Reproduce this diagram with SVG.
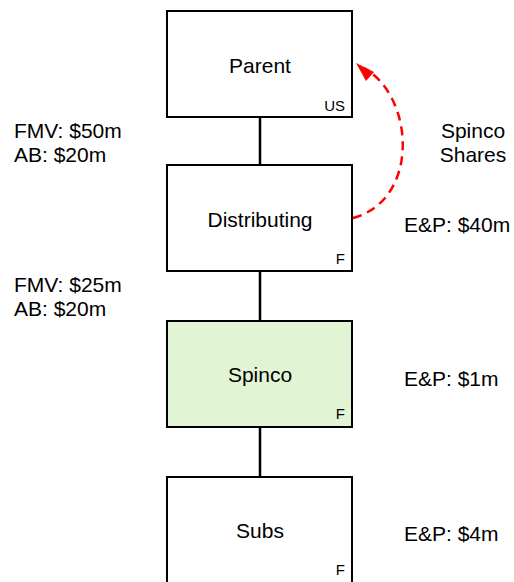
<svg xmlns="http://www.w3.org/2000/svg" width="514" height="582" viewBox="0 0 514 582">
<style>
.box{fill:#fff;stroke:#000;stroke-width:2}
.t{font-family:"Liberation Sans",Arial,sans-serif;font-size:21px;fill:#000}
.s{font-family:"Liberation Sans",Arial,sans-serif;font-size:15px;fill:#000}
.c{text-anchor:middle}
.e{text-anchor:end}
.ln{stroke:#000;stroke-width:2.5}
</style>
<g id="connectors">
<line class="ln" x1="260" y1="117" x2="260" y2="165"/>
<line class="ln" x1="260" y1="271" x2="260" y2="321"/>
<line class="ln" x1="260" y1="427" x2="260" y2="477"/>
<path d="M353,218 C420,200 415,97 364,68" fill="none" stroke="#f00" stroke-width="2.5" stroke-dasharray="9,6"/>
<path d="M374,72 L356,63 L366,81 z" fill="#f00"/>
</g>
<g id="parent">
<rect class="box" x="167" y="11" width="185" height="106"/>
<text class="t c" x="260" y="73">Parent</text>
<text class="s e" x="345" y="111">US</text>
</g>
<g id="distributing">
<rect class="box" x="167" y="165" width="185" height="106"/>
<text class="t c" x="260" y="227">Distributing</text>
<text class="s e" x="345" y="264">F</text>
</g>
<g id="spinco">
<rect class="box" x="167" y="321" width="185" height="106" style="fill:#e1f4d3"/>
<text class="t c" x="260" y="382">Spinco</text>
<text class="s e" x="345" y="419">F</text>
</g>
<g id="subs">
<rect class="box" x="167" y="477" width="185" height="110"/>
<text class="t c" x="260" y="538">Subs</text>
<text class="s e" x="345" y="575">F</text>
</g>
<g id="labels">
<text class="t" x="14" y="138">FMV: $50m</text>
<text class="t" x="14" y="162">AB: $20m</text>
<text class="t" x="14" y="292">FMV: $25m</text>
<text class="t" x="14" y="316">AB: $20m</text>
<text class="t c" x="473" y="138">Spinco</text>
<text class="t c" x="473" y="162">Shares</text>
<text class="t" x="404" y="232">E&amp;P: $40m</text>
<text class="t" x="404" y="386">E&amp;P: $1m</text>
<text class="t" x="404" y="541">E&amp;P: $4m</text>
</g>
</svg>
